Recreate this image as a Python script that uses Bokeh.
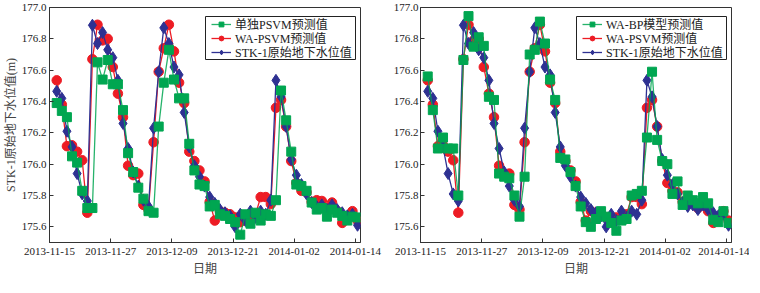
import math
import pandas as pd
from bokeh.plotting import figure
from bokeh.layouts import row
from bokeh.models import (FixedTicker, DatetimeTickFormatter, PrintfTickFormatter,
                          Range1d, Legend, LegendItem, Label, BoxAnnotation)
from bokeh.embed import file_html
from bokeh.resources import INLINE

# ---------------- data ----------------
dates = pd.date_range("2013-11-16 10:00", periods=60, freq="D")

observed = [176.465, 176.42, 176.21, 176.11, 175.94, 175.81, 175.765, 176.887, 176.77, 176.84,
            176.73, 176.68, 176.535, 176.26, 176.10, 175.95, 175.86, 175.77, 175.73, 176.23,
            176.59, 176.87, 176.77, 176.62, 176.57, 176.33, 176.11, 175.99, 175.92, 175.86,
            175.79, 175.75, 175.71, 175.69, 175.67, 175.60, 175.68, 175.64, 175.70, 175.66,
            175.70, 175.68, 175.77, 176.535, 176.43, 176.24, 176.03, 175.93, 175.87, 175.81,
            175.755, 175.73, 175.74, 175.71, 175.74, 175.71, 175.69, 175.67, 175.68, 175.61]

wa_psvm = [176.535, 176.38, 176.115, 176.12, 176.08, 176.025, 175.69, 176.67, 176.89, 176.79,
           176.80, 176.62, 176.45, 176.30, 175.99, 175.93, 175.94, 175.74, 175.71, 176.14,
           176.59, 176.74, 176.89, 176.72, 176.52, 176.39, 176.08, 176.02, 175.96, 175.89,
           175.76, 175.64, 175.70, 175.69, 175.68, 175.66, 175.63, 175.66, 175.67, 175.68,
           175.79, 175.79, 175.745, 176.36, 176.41, 176.24, 176.02, 175.88, 175.83, 175.82,
           175.76, 175.77, 175.765, 175.72, 175.755, 175.70, 175.625, 175.66, 175.70, 175.64]

psvm = [176.39, 176.34, 176.30, 176.05, 176.01, 175.83, 175.72, 175.72, 176.65, 176.54,
        176.665, 176.51, 176.51, 176.345, 176.07, 175.95, 175.85, 175.78, 175.70, 175.69,
        176.24, 176.52, 176.73, 176.54, 176.42, 176.42, 176.13, 175.96, 175.87, 175.86,
        175.73, 175.74, 175.68, 175.67, 175.65, 175.63, 175.55, 175.68, 175.62, 175.69,
        175.64, 175.68, 175.67, 175.77, 176.47, 176.28, 176.08, 175.87, 175.86, 175.83,
        175.755, 175.71, 175.72, 175.665, 175.71, 175.69, 175.67, 175.64, 175.665, 175.66]

wa_bp = [176.56, 176.345, 176.10, 176.17, 176.10, 176.10, 175.80, 176.665, 176.945, 176.75,
         176.81, 176.755, 176.43, 176.41, 175.94, 175.92, 175.91, 175.80, 175.665, 175.92,
         176.70, 176.73, 176.91, 176.77, 176.54, 176.41, 176.04, 176.03, 175.95, 175.86,
         175.73, 175.63, 175.60, 175.65, 175.70, 175.665, 175.625, 175.575, 175.64, 175.65,
         175.80, 175.81, 175.83, 176.17, 176.59, 176.155, 176.02, 176.00, 175.81, 175.89,
         175.74, 175.80, 175.77, 175.75, 175.79, 175.75, 175.645, 175.63, 175.70, 175.625]

x_tick_labels = ["2013-11-15", "2013-11-27", "2013-12-09", "2013-12-21", "2014-01-02", "2014-01-14"]
y_ticks = [175.6, 175.8, 176.0, 176.2, 176.4, 176.6, 176.8, 177.0]
x_start, x_end = "2013-11-15", "2014-01-15"
y_start, y_end = 175.5, 177.0

y_label = "STK-1原始地下水位值(m)"
x_label = "日期"
left_names = ["单独PSVM预测值", "WA-PSVM预测值", "STK-1原始地下水位值"]
right_names = ["WA-BP模型预测值", "WA-PSVM预测值", "STK-1原始地下水位值"]

# ---------------- style ----------------
FONT = "'Liberation Serif', 'Noto Sans CJK SC'"
GREEN = "#00a651"
RED = "#ed1c24"
BLUE = "#2e3192"
AXC = "#333333"
FRAME_W, FRAME_H = 311, 235
# legend box in screen px measured from the frame's bottom-left corner
BOX_L, BOX_R, BOX_B, BOX_T = 156, 306, 183, 226
ROW_CENTERS = [217.7, 203.5, 189.3]
ITEM_H = 17.4


def make_plot(pred, names, border_left, border_right, ylab, ylab_standoff, ytick_standoff):
    p = figure(frame_width=FRAME_W, frame_height=FRAME_H,
               output_backend="svg", toolbar_location=None,
               x_axis_type="datetime",
               x_range=Range1d(pd.Timestamp(x_start), pd.Timestamp(x_end)),
               y_range=Range1d(y_start, y_end),
               min_border_left=border_left, min_border_right=border_right,
               min_border_top=7, min_border_bottom=35)
    p.xgrid.visible = False
    p.ygrid.visible = False
    p.outline_line_color = AXC
    p.outline_line_width = 1

    xt = [pd.Timestamp(s).value // 10**6 for s in x_tick_labels]
    p.xaxis.ticker = FixedTicker(ticks=xt)
    p.xaxis.formatter = DatetimeTickFormatter(days="%Y-%m-%d", months="%Y-%m-%d",
                                              years="%Y-%m-%d", hours="%Y-%m-%d")
    p.yaxis.ticker = FixedTicker(ticks=y_ticks)
    p.yaxis.formatter = PrintfTickFormatter(format="%.1f")
    for ax in (p.xaxis[0], p.yaxis[0]):
        ax.major_tick_in = 4
        ax.major_tick_out = 0
        ax.minor_tick_line_color = None
        ax.axis_line_color = AXC
        ax.major_tick_line_color = AXC
        ax.major_label_text_font = FONT
        ax.major_label_text_font_size = "11px"
        ax.major_label_text_color = "#222222"
        ax.axis_label_text_font = FONT
        ax.axis_label_text_font_size = "12px"
        ax.axis_label_text_font_style = "normal"
        ax.axis_label_text_color = "#444444"
    p.yaxis.major_label_standoff = ytick_standoff
    p.xaxis.major_label_standoff = 5
    p.xaxis.axis_label = x_label
    p.xaxis.axis_label_standoff = 4
    if ylab:
        p.yaxis.axis_label = ylab
        p.yaxis.axis_label_standoff = ylab_standoff

    r_line = p.line(dates, wa_psvm, line_color=RED, line_width=1.3)
    r_pts = p.scatter(dates, wa_psvm, marker="circle", size=9.5, fill_color=RED, line_color=RED)
    b_line = p.line(dates, observed, line_color=BLUE, line_width=1.3)
    b_pts = p.scatter(dates, observed, marker="diamond", size=12, fill_color=BLUE, line_color=BLUE)
    g_line = p.line(dates, pred, line_color=GREEN, line_width=1.3, line_alpha=0.85)
    g_pts = p.scatter(dates, pred, marker="square", size=9, fill_color=GREEN, line_color=GREEN)

    # legend frame
    p.add_layout(BoxAnnotation(left=BOX_L, right=BOX_R, bottom=BOX_B, top=BOX_T,
                               left_units="screen", right_units="screen",
                               bottom_units="screen", top_units="screen",
                               fill_color="white", fill_alpha=1.0,
                               line_color="#222222", line_width=1, line_alpha=1.0))
    groups = [[g_line, g_pts], [r_line, r_pts], [b_line, b_pts]]
    for name, rends, yc in zip(names, groups, ROW_CENTERS):
        lg = Legend(items=[LegendItem(label=name, renderers=rends)],
                    location=(BOX_L + 6, yc - ITEM_H / 2), margin=0, padding=0, spacing=0,
                    glyph_width=20, glyph_height=12, label_height=12, label_standoff=4,
                    label_text_font=FONT, label_text_font_size="12px",
                    label_text_line_height=1.0, label_text_color="#222222",
                    border_line_color=None, background_fill_alpha=0.0)
        p.add_layout(lg, "center")
    return p


p1 = make_plot(psvm, left_names, 43, 30, y_label, 1, 3)
# label of the right-hand panel's y axis, drawn in the gap between the panels
p1.add_layout(Label(x=327, y=FRAME_H / 2, x_units="screen", y_units="screen", text=y_label,
                    angle=math.pi / 2, text_align="center", text_baseline="middle",
                    text_font=FONT, text_font_size="12px", text_color="#444444"))
p2 = make_plot(wa_bp, right_names, 27, 18, None, 0, 2)

layout = row(p1, p2)
open("out.html", "w").write(file_html(layout, INLINE))
